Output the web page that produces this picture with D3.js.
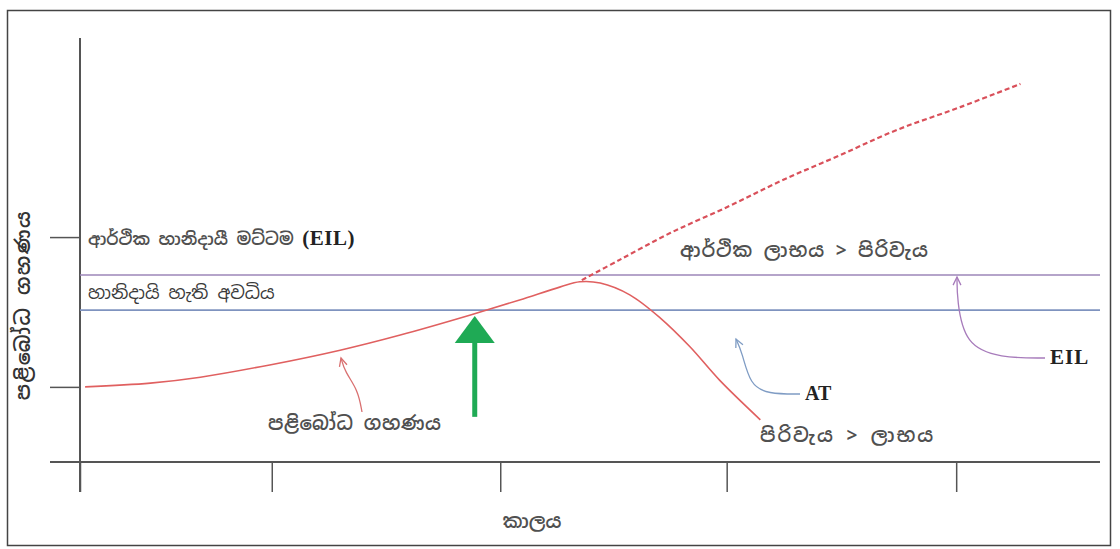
<!DOCTYPE html>
<html>
<head>
<meta charset="utf-8">
<script src="https://cdn.jsdelivr.net/npm/d3@7"></script>
<style>
  html, body { margin: 0; padding: 0; background: #fff; }
  svg { display: block; }
  text { font-family: "Noto Sans Sinhala", "Noto Sans", "DejaVu Sans", sans-serif; fill: #3a3a3a; }
  .sb { font-weight: 600; fill: #505050; }
  .lat { font-family: "Liberation Serif", "DejaVu Serif", serif; font-weight: bold; fill: #222; }
</style>
</head>
<body>
<svg id="chart" width="1120" height="549"></svg>
<script>
// ---- Data (time units 0..100, population units 0..100) ----
const xTickValues = [0, 18.8, 41.2, 63.4, 85.9];
const yTickValues = [17.8, 53.3];
const ETL = 44.3;   // economic injury level line
const AT = 36.0;    // action threshold line

// pest population (solid part, rises then falls after control)
const popX = [0.5, 6.9, 11.8, 18.6, 25.5, 31.4, 38.2, 43.1, 47.1, 49.0, 51.0, 53.9, 56.9, 59.8, 62.7, 66.7];
const popY = [17.8, 18.7, 20.1, 23.0, 26.5, 30.1, 34.8, 38.4, 41.5, 42.7, 42.4, 39.6, 34.1, 27.3, 19.4, 10.0];
// pest population without control (dashed)
const dashX = [49.2, 52.9, 57.9, 63.7, 68.9, 74.5, 80.1, 86.3, 92.2];
const dashY = [43.1, 47.9, 54.3, 60.7, 66.8, 72.7, 78.7, 84.1, 89.6];

// control timing arrow (green)
const ctrlX = 38.7, ctrlY0 = 10.7, ctrlY1 = 34.6;

// labels
const yTitle = "පළිබෝධ ගහණය";
const xTitle = "කාලය";
const eilLabel = "ආර්ථික හානිදායී මට්ටම ";
const eilLabelLat = "(EIL)";
const damageLabel = "හානිදායි හැති අවධිය";
const benefitLabel = "ආර්ථික ලාභය > පිරිවැය";
const costLabel = "පිරිවැය > ලාභය";
const popLabel = "පළිබෝධ ගහණය";

// ---- Drawing ----
const svg = d3.select("#chart");
const x = d3.scaleLinear().domain([0, 100]).range([80, 1100]);
const y = d3.scaleLinear().domain([0, 100]).range([462, 40]);

// outer frame
svg.append("rect").attr("x", 7.5).attr("y", 10.5).attr("width", 1103).attr("height", 535)
  .attr("fill", "none").attr("stroke", "#444").attr("stroke-width", 1.5);

// axes
const xAxis = d3.axisBottom(x).tickValues(xTickValues).tickSize(30).tickFormat("");
const gx = svg.append("g").attr("transform", `translate(0,${y(0)})`).call(xAxis);
gx.select(".domain").remove();
gx.selectAll(".tick line").attr("stroke", "#555").attr("stroke-width", 1.5);
svg.append("line").attr("x1", 50).attr("x2", 1100).attr("y1", y(0)).attr("y2", y(0))
  .attr("stroke", "#555").attr("stroke-width", 2);

const yAxis = d3.axisLeft(y).tickValues(yTickValues).tickSize(30).tickFormat("");
const gy = svg.append("g").attr("transform", `translate(${x(0)},0)`).call(yAxis);
gy.select(".domain").remove();
gy.selectAll(".tick line").attr("stroke", "#555").attr("stroke-width", 1.5);
svg.append("line").attr("x1", x(0)).attr("x2", x(0)).attr("y1", 38).attr("y2", 492)
  .attr("stroke", "#555").attr("stroke-width", 2);

// threshold lines
svg.append("line").attr("x1", x(0)).attr("x2", 1100).attr("y1", y(ETL)).attr("y2", y(ETL))
  .attr("stroke", "#9d86b8").attr("stroke-width", 1.6);
svg.append("line").attr("x1", x(0)).attr("x2", 1100).attr("y1", y(AT)).attr("y2", y(AT))
  .attr("stroke", "#7f93bf").attr("stroke-width", 1.6);

// curves
const lineC = d3.line().x(d => x(d[0])).y(d => y(d[1])).curve(d3.curveCatmullRom);
svg.append("path").datum(popX.map((v, i) => [v, popY[i]]))
  .attr("d", lineC).attr("fill", "none").attr("stroke", "#e06060").attr("stroke-width", 1.6);
svg.append("path").datum(dashX.map((v, i) => [v, dashY[i]]))
  .attr("d", lineC).attr("fill", "none").attr("stroke", "#d9505a").attr("stroke-width", 2.2)
  .attr("stroke-dasharray", "5,3");

// green control arrow
const gxp = x(ctrlX);
svg.append("line").attr("x1", gxp).attr("x2", gxp).attr("y1", y(ctrlY0)).attr("y2", y(ctrlY1) + 20)
  .attr("stroke", "#1faa55").attr("stroke-width", 5);
svg.append("path")
  .attr("d", `M${gxp},${y(ctrlY1)} L${gxp - 20},${y(ctrlY1) + 27} L${gxp + 20},${y(ctrlY1) + 27} Z`)
  .attr("fill", "#1faa55");

// pointer helper
function pointer(pts, color) {
  const p = d3.line().curve(d3.curveBasis)(pts);
  svg.append("path").attr("d", p).attr("fill", "none").attr("stroke", color).attr("stroke-width", 1.3);
  const [tx, ty] = pts[0], [nx, ny] = pts[1];
  const ang = Math.atan2(ny - ty, nx - tx);
  const L = 9, w = 0.45;
  svg.append("path")
    .attr("d", `M${tx + L * Math.cos(ang - w)},${ty + L * Math.sin(ang - w)} L${tx},${ty} L${tx + L * Math.cos(ang + w)},${ty + L * Math.sin(ang + w)}`)
    .attr("fill", "none").attr("stroke", color).attr("stroke-width", 1.3);
}
pointer([[341, 358], [345, 372], [358, 390], [362, 412]], "#d97070");
pointer([[736, 339], [742, 352], [750, 385], [768, 394], [800, 394]], "#7f9cc4");
pointer([[957, 277], [957, 300], [965, 345], [1000, 358], [1045, 358]], "#a77bbb");

// texts
const eilT = svg.append("text").attr("class", "sb").attr("x", 88).attr("y", 245).attr("font-size", 17);
eilT.append("tspan").text(eilLabel);
eilT.append("tspan").attr("class", "lat").attr("font-size", 21).attr("letter-spacing", 0.5).text(eilLabelLat);
svg.append("text").attr("x", 88).attr("y", 299).attr("font-size", 18).text(damageLabel);
svg.append("text").attr("class", "sb").attr("x", 680).attr("y", 257).attr("font-size", 19)
  .attr("letter-spacing", 1).text(benefitLabel);
svg.append("text").attr("class", "sb").attr("x", 760).attr("y", 442).attr("font-size", 19)
  .attr("letter-spacing", 2).text(costLabel);
svg.append("text").attr("class", "sb").attr("x", 268).attr("y", 430).attr("font-size", 19)
  .attr("letter-spacing", 0.6).text(popLabel);
svg.append("text").attr("class", "sb").attr("x", 532).attr("y", 528).attr("font-size", 19)
  .attr("text-anchor", "middle").text(xTitle);
svg.append("text").attr("class", "sb").attr("transform", "translate(30,305) rotate(-90)").attr("font-size", 20)
  .attr("text-anchor", "middle").attr("letter-spacing", 1.5).attr("font-weight", "bold").style("fill", "#333").text(yTitle);
svg.append("text").attr("class", "lat").attr("x", 805).attr("y", 400).attr("font-size", 20).text("AT");
svg.append("text").attr("class", "lat").attr("x", 1050).attr("y", 364).attr("font-size", 21)
  .attr("letter-spacing", 1).text("EIL");
</script>
</body>
</html>
